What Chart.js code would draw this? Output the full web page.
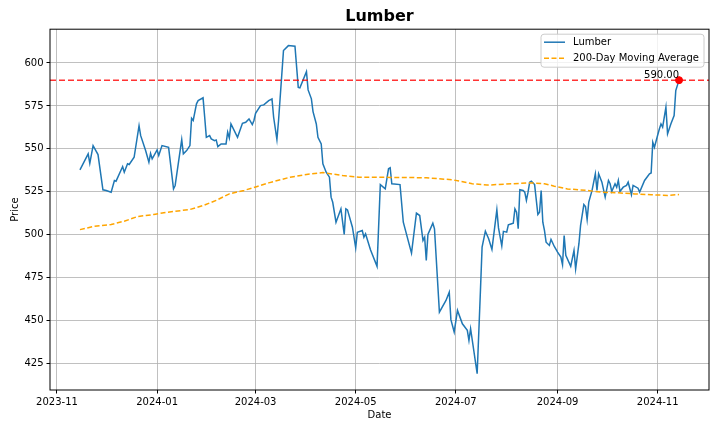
<!DOCTYPE html>
<html>
<head>
<meta charset="utf-8">
<script src="https://cdn.jsdelivr.net/npm/chart.js@4.4.0/dist/chart.umd.min.js"></script>
<style>
  html, body { margin: 0; padding: 0; background: #fff; }
  #wrap { width: 720px; height: 432px; }
</style>
</head>
<body>
<div id="wrap"><canvas id="Chart"></canvas></div>
<script>
// price readings (date, close)
const priceDates = [
  '2023-11-15','2023-11-20','2023-11-21','2023-11-23','2023-11-26','2023-11-29','2023-12-01','2023-12-04','2023-12-06','2023-12-07',
  '2023-12-11','2023-12-12','2023-12-14','2023-12-15','2023-12-18','2023-12-21','2023-12-22','2023-12-25','2023-12-27','2023-12-28',
  '2023-12-29','2024-01-01','2024-01-02','2024-01-04','2024-01-08','2024-01-11','2024-01-12','2024-01-16','2024-01-17','2024-01-19',
  '2024-01-21','2024-01-22','2024-01-23','2024-01-25','2024-01-26','2024-01-29','2024-01-30','2024-01-31','2024-02-02','2024-02-03',
  '2024-02-05','2024-02-06','2024-02-07','2024-02-09','2024-02-12','2024-02-13','2024-02-14','2024-02-15','2024-02-19','2024-02-22',
  '2024-02-24','2024-02-26','2024-02-28','2024-02-29','2024-03-01','2024-03-04','2024-03-06','2024-03-09','2024-03-11','2024-03-12',
  '2024-03-14','2024-03-15','2024-03-18','2024-03-21','2024-03-25','2024-03-27','2024-03-28','2024-04-01','2024-04-02','2024-04-04',
  '2024-04-05','2024-04-07','2024-04-08','2024-04-10','2024-04-11','2024-04-13','2024-04-15','2024-04-16','2024-04-17','2024-04-19',
  '2024-04-22','2024-04-24','2024-04-25','2024-04-26','2024-04-29','2024-05-01','2024-05-02','2024-05-05','2024-05-06','2024-05-07',
  '2024-05-10','2024-05-14','2024-05-16','2024-05-19','2024-05-21','2024-05-22','2024-05-23','2024-05-28','2024-05-30','2024-06-04',
  '2024-06-07','2024-06-09','2024-06-11','2024-06-12','2024-06-13','2024-06-14','2024-06-17','2024-06-18','2024-06-21','2024-06-25',
  '2024-06-27','2024-06-28','2024-06-30','2024-07-02','2024-07-05','2024-07-08','2024-07-09','2024-07-10','2024-07-14','2024-07-16',
  '2024-07-17','2024-07-19','2024-07-21','2024-07-23','2024-07-26','2024-07-27','2024-07-29','2024-07-30','2024-08-01','2024-08-02',
  '2024-08-04','2024-08-05','2024-08-06','2024-08-07','2024-08-08','2024-08-09','2024-08-11','2024-08-12','2024-08-13','2024-08-14',
  '2024-08-15','2024-08-16','2024-08-18','2024-08-20','2024-08-21','2024-08-22','2024-08-23','2024-08-24','2024-08-25','2024-08-27',
  '2024-08-28','2024-08-30','2024-09-01','2024-09-03','2024-09-04','2024-09-05','2024-09-06','2024-09-09','2024-09-11','2024-09-12',
  '2024-09-14','2024-09-15','2024-09-17','2024-09-18','2024-09-19','2024-09-20','2024-09-22','2024-09-24','2024-09-25','2024-09-26',
  '2024-09-28','2024-09-30','2024-10-02','2024-10-03','2024-10-04','2024-10-06','2024-10-07','2024-10-08','2024-10-09','2024-10-11',
  '2024-10-13','2024-10-14','2024-10-16','2024-10-17','2024-10-20','2024-10-21','2024-10-24','2024-10-27','2024-10-28','2024-10-29',
  '2024-10-30','2024-11-01','2024-11-02','2024-11-03','2024-11-04','2024-11-06','2024-11-07','2024-11-09','2024-11-11','2024-11-12',
  '2024-11-14'
];
const priceValues = [
  537.8,547.1,541.6,551.9,546.7,526.2,525.8,524.8,531.6,531.2,
  539.7,536.4,541.3,540.9,545.1,563.5,557.7,549.0,542.2,547.4,
  544.2,549.4,546.1,551.9,550.9,526.7,528.7,555.4,547.1,549.0,
  551.9,567.8,566.5,576.2,578.1,579.7,568.4,556.7,557.7,555.8,
  554.8,555.2,551.3,552.9,552.9,559.7,556.4,564.5,556.7,564.9,
  565.5,567.4,564.1,566.5,570.7,575.2,575.6,578.1,579.1,568.4,
  555.4,566.5,607.2,610.1,609.7,585.8,585.5,594.9,584.3,579.1,
  571.7,564.5,556.7,552.9,541.3,536.4,533.5,521.9,518.9,507.3,
  515.1,500.2,515.1,514.5,504.4,492.4,501.5,502.5,498.6,500.6,
  491.3,481.6,529.2,526.7,538.4,539.0,529.7,529.2,507.3,489.3,
  512.6,511.2,496.7,498.6,485.1,500.2,506.7,503.5,455.0,461.8,
  466.6,450.6,443.4,456.0,448.2,444.4,438.5,445.3,419.2,467.6,
  492.8,502.1,497.7,491.5,514.5,504.0,493.5,502.0,501.5,505.8,
  506.4,506.7,515.1,513.1,503.5,526.2,525.8,524.8,520.0,524.8,
  530.6,531.2,529.2,511.8,513.1,525.8,507.3,502.5,495.7,493.8,
  497.3,493.2,489.9,487.0,482.6,499.6,488.0,481.6,490.9,480.2,
  494.8,505.4,517.6,516.4,508.9,519.0,525.8,535.5,525.8,535.5,
  530.6,521.9,531.6,529.7,525.2,529.7,527.7,531.6,525.2,527.7,
  528.7,530.6,523.3,528.7,527.1,524.8,531.6,535.5,536.0,553.8,
  550.9,558.1,561.6,564.5,562.6,574.2,558.7,564.5,569.4,583.9,
  590.0
];

// 200-day moving average readings
const maDates = [
  '2023-11-15','2023-11-23','2023-12-04','2023-12-12','2023-12-20','2023-12-30','2024-01-07','2024-01-21','2024-01-29','2024-02-06',
  '2024-02-14','2024-02-23','2024-03-02','2024-03-09','2024-03-22','2024-04-01','2024-04-11','2024-04-23','2024-05-03','2024-05-22',
  '2024-06-13','2024-06-29','2024-07-11','2024-07-20','2024-08-04','2024-08-16','2024-08-24','2024-08-30','2024-09-07','2024-09-19',
  '2024-09-28','2024-10-08','2024-10-18','2024-10-28','2024-11-07','2024-11-14'
];
const maValues = [
  503.0,504.8,506.0,507.9,510.6,511.8,513.1,514.7,517.0,520.0,
  523.8,525.8,528.1,530.2,533.5,535.1,536.2,534.5,533.5,533.4,
  533.2,532.0,529.7,528.9,529.7,530.2,529.7,528.3,526.7,525.8,
  524.8,524.4,523.8,523.3,522.9,523.4
];

const xTickLabels = ['2023-11','2024-01','2024-03','2024-05','2024-07','2024-09','2024-11'];
const yTickValues = [425, 450, 475, 500, 525, 550, 575, 600];

const FONT = '"DejaVu Sans", sans-serif';

function dayOf(s) {
  const p = s.split('-').map(Number);
  return Date.UTC(p[0], p[1] - 1, p[2] || 1) / 86400000;
}

const pricePoints = priceDates.map((d, i) => ({ x: dayOf(d), y: priceValues[i] }));
const maPoints = maDates.map((d, i) => ({ x: dayOf(d), y: maValues[i] }));
const lastPoint = pricePoints[pricePoints.length - 1];

// matplotlib style 5% margins
const xs = pricePoints.map(p => p.x);
const ys = priceValues.concat(maValues);
const xMin = Math.min(...xs), xMax = Math.max(...xs);
const yMin = Math.min(...ys), yMax = Math.max(...ys);
const xPad = (xMax - xMin) * 0.05, yPad = (yMax - yMin) * 0.05;

// red dashed level line + value text
const levelLine = {
  id: 'levelLine',
  afterDatasetsDraw(chart) {
    const { ctx, chartArea, scales } = chart;
    const y = scales.y.getPixelForValue(lastPoint.y);
    ctx.save();
    ctx.strokeStyle = 'rgba(255,0,0,0.8)';
    ctx.lineWidth = 1.5;
    ctx.setLineDash([6, 3]);
    ctx.beginPath();
    ctx.moveTo(chartArea.left, y);
    ctx.lineTo(chartArea.right, y);
    ctx.stroke();
    ctx.setLineDash([]);
    ctx.fillStyle = '#000';
    ctx.font = '10px ' + FONT;
    ctx.textAlign = 'right';
    ctx.textBaseline = 'alphabetic';
    ctx.fillText(lastPoint.y.toFixed(2), scales.x.getPixelForValue(lastPoint.x), y - 2);
    ctx.restore();
  }
};

// axes frame and legend box
const frameAndLegend = {
  id: 'frameAndLegend',
  afterDraw(chart) {
    const { ctx, chartArea } = chart;
    ctx.save();
    ctx.strokeStyle = '#000';
    ctx.lineWidth = 1;
    ctx.strokeRect(chartArea.left, chartArea.top, chartArea.right - chartArea.left, chartArea.bottom - chartArea.top);

    const items = chart.data.datasets.filter(d => d.inLegend);
    ctx.font = '10px ' + FONT;
    const textW = Math.max(...items.map(d => ctx.measureText(d.label).width));
    const w = 32 + textW + 5;
    const h = 33;
    const x0 = chartArea.right - 5 - w;
    const y0 = chartArea.top + 5;
    ctx.beginPath();
    ctx.roundRect(x0, y0, w, h, 3);
    ctx.fillStyle = 'rgba(255,255,255,0.8)';
    ctx.fill();
    ctx.strokeStyle = '#cccccc';
    ctx.stroke();
    items.forEach((d, i) => {
      const yy = y0 + 8 + i * 16;
      ctx.strokeStyle = d.borderColor;
      ctx.lineWidth = d.borderWidth;
      ctx.setLineDash(d.borderDash || []);
      ctx.beginPath();
      ctx.moveTo(x0 + 3, yy);
      ctx.lineTo(x0 + 24, yy);
      ctx.stroke();
      ctx.setLineDash([]);
      ctx.fillStyle = '#000';
      ctx.textAlign = 'left';
      ctx.textBaseline = 'middle';
      ctx.fillText(d.label, x0 + 32, yy);
    });
    ctx.restore();
  }
};

const chartData = {
  type: 'line',
  data: {
    datasets: [
      {
        label: 'Lumber',
        data: pricePoints,
        borderColor: '#1f77b4',
        borderWidth: 1.5,
        pointRadius: 0,
        tension: 0,
        order: 1,
        inLegend: true
      },
      {
        label: '200-Day Moving Average',
        data: maPoints,
        borderColor: 'orange',
        borderWidth: 1.5,
        borderDash: [5, 2.5],
        pointRadius: 0,
        tension: 0,
        order: 0,
        inLegend: true
      },
      {
        label: 'last',
        data: [lastPoint],
        showLine: false,
        pointRadius: 3.5,
        pointBackgroundColor: 'red',
        pointBorderColor: 'red',
        order: -1,
        inLegend: false
      }
    ]
  },
  options: {
    responsive: true,
    maintainAspectRatio: false,
    animation: false,
    layout: { padding: { left: 0, right: 11, top: 0, bottom: 0 } },
    plugins: {
      legend: { display: false },
      tooltip: { enabled: false },
      title: {
        display: true,
        text: 'Lumber',
        fullSize: false,
        color: '#000',
        font: { family: FONT, size: 16, weight: 'bold' },
        padding: { top: 7, bottom: 3 }
      }
    },
    scales: {
      x: {
        type: 'linear',
        min: xMin - xPad,
        max: xMax + xPad,
        afterBuildTicks: axis => { axis.ticks = xTickLabels.map(l => ({ value: dayOf(l) })); },
        afterFit: axis => { axis.height = 42; },
        ticks: {
          autoSkip: false,
          maxRotation: 0,
          padding: 3,
          color: '#000',
          font: { family: FONT, size: 10 },
          callback: (v, i) => xTickLabels[i]
        },
        grid: { color: '#b0b0b0', lineWidth: 0.8, tickColor: '#000', tickLength: 3.5, tickWidth: 1 },
        border: { display: false },
        title: { display: true, text: 'Date', color: '#000', font: { family: FONT, size: 10 }, padding: { top: 0, bottom: 11 } }
      },
      y: {
        min: yMin - yPad,
        max: yMax + yPad,
        afterBuildTicks: axis => { axis.ticks = yTickValues.map(v => ({ value: v })); },
        afterFit: axis => { axis.width = 50; },
        ticks: {
          padding: 3,
          color: '#000',
          font: { family: FONT, size: 10 },
          callback: v => String(v)
        },
        grid: { color: '#b0b0b0', lineWidth: 0.8, tickColor: '#000', tickLength: 3.5, tickWidth: 1 },
        border: { display: false },
        title: { display: true, text: 'Price', color: '#000', font: { family: FONT, size: 10 }, padding: { top: 9, bottom: 0 } }
      }
    }
  },
  plugins: [levelLine, frameAndLegend]
};

let presentdata = new Chart(document.getElementById('Chart'), chartData);
</script>
</body>
</html>
